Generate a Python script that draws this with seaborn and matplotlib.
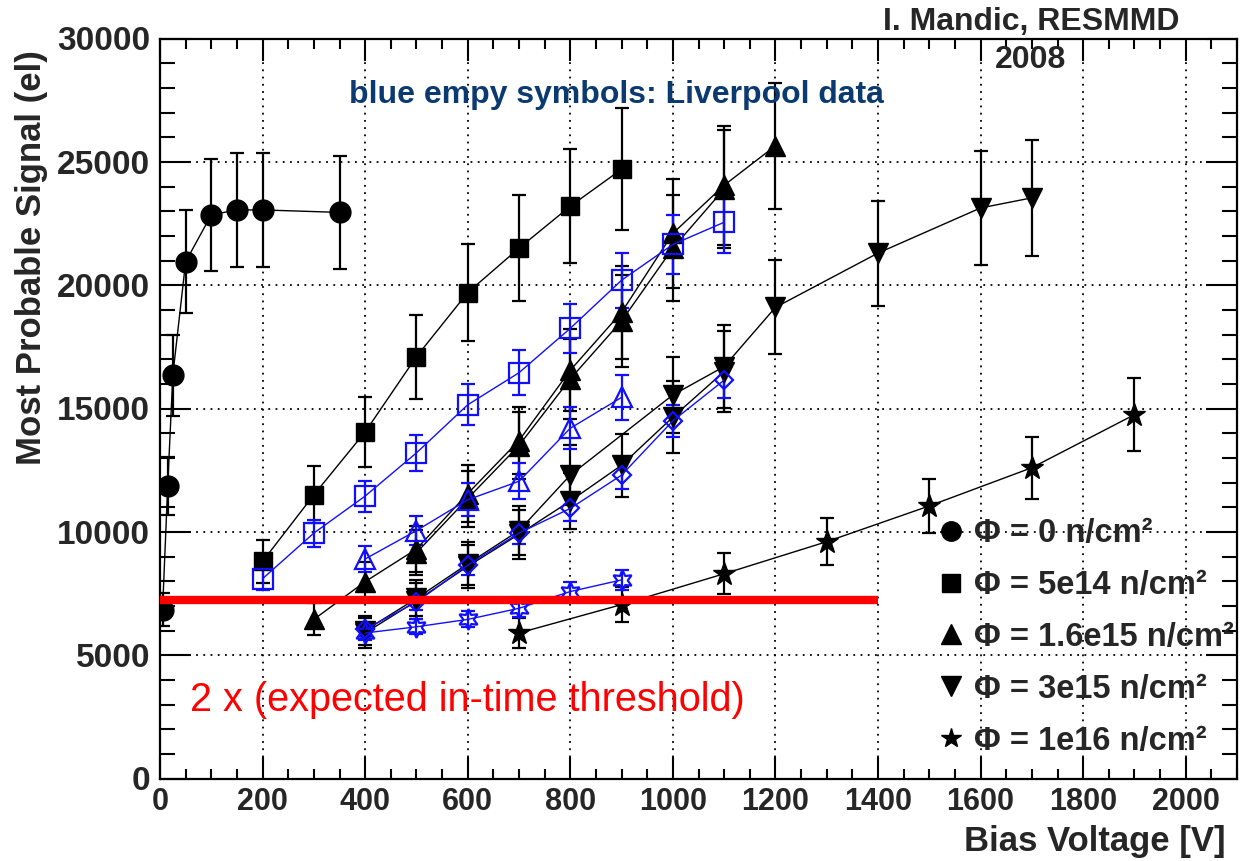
import numpy as np
import matplotlib
matplotlib.use("Agg")
import matplotlib.pyplot as plt
import seaborn as sns
from matplotlib.lines import Line2D
from matplotlib.ticker import MultipleLocator

# --- data (bias voltage [V], most probable signal [el]) ---
v_f0 = [5, 15, 25, 50, 100, 150, 200, 350]
s_f0 = [6850, 11850, 16350, 20950, 22850, 23050, 23050, 22950]

v_f5e14 = [200, 300, 400, 500, 600, 700, 800, 900]
s_f5e14 = [8800, 11500, 14050, 17100, 19700, 21500, 23200, 24700]

v_f16a = [300, 400, 500, 600, 700, 800, 900, 1000, 1100, 1200]
s_f16a = [6450, 7980, 9300, 11550, 13700, 16550, 18900, 22100, 24050, 25650]
v_f16b = [500, 600, 700, 800, 900, 1000, 1100]
s_f16b = [9150, 11350, 13500, 16200, 18550, 21500, 23900]

v_f3a = [400, 500, 600, 700, 800, 1000, 1100, 1200, 1400, 1600, 1700]
s_f3a = [6000, 7300, 8700, 10050, 12300, 15550, 16700, 19100, 21300, 23130, 23540]
v_f3b = [400, 500, 600, 700, 800, 900, 1000, 1100]
s_f3b = [5900, 7200, 8600, 9900, 11250, 12700, 14650, 16500]

v_f1e16 = [700, 900, 1100, 1300, 1500, 1700, 1900]
s_f1e16 = [5900, 7050, 8300, 9600, 11050, 12600, 14750]

# Liverpool (blue, open symbols)
v_lv5e14 = [200, 300, 400, 500, 600, 700, 800, 900, 1000, 1100]
s_lv5e14 = [8100, 9950, 11450, 13200, 15150, 16450, 18250, 20200, 21650, 22550]
v_lv16 = [400, 500, 600, 700, 800, 900]
s_lv16 = [8900, 10050, 11300, 12050, 14200, 15450]
v_lv3 = [400, 500, 600, 700, 800, 900, 1000, 1100]
s_lv3 = [6050, 7150, 8650, 9950, 10950, 12300, 14500, 16150]
v_lv1e16 = [400, 500, 600, 700, 800, 900]
s_lv1e16 = [5900, 6150, 6450, 6900, 7580, 8050]

threshold = 7250
threshold_v = [0, 1400]

legend_labels = ["Φ = 0 n/cm²", "Φ = 5e14 n/cm²", "Φ = 1.6e15 n/cm²",
                 "Φ = 3e15 n/cm²", "Φ = 1e16 n/cm²"]

BLUE = "#1010ff"
star6 = (6, 1, 0)

series = [
    # v, s, relative error, marker, size, color, filled
    (v_f0, s_f0, 0.10, "o", 15, "black", True),
    (v_f5e14, s_f5e14, 0.10, "s", 13, "black", True),
    (v_f16a, s_f16a, 0.10, "^", 15, "black", True),
    (v_f16b, s_f16b, 0.10, "^", 15, "black", True),
    (v_f3a, s_f3a, 0.10, "v", 15, "black", True),
    (v_f3b, s_f3b, 0.10, "v", 15, "black", True),
    (v_f1e16, s_f1e16, 0.10, "*", 17, "black", True),
    (v_lv5e14, s_lv5e14, 0.055, "s", 14, BLUE, False),
    (v_lv16, s_lv16, 0.06, "^", 15, BLUE, False),
    (v_lv3, s_lv3, 0.045, "D", 9, BLUE, False),
    (v_lv1e16, s_lv1e16, 0.05, star6, 15, BLUE, False),
]

sns.set_theme(style="ticks")
plt.rcParams["font.family"] = ["Liberation Sans", "DejaVu Sans"]
plt.rcParams["font.weight"] = "bold"

fig = plt.figure(figsize=(12.42, 8.61), dpi=100)
ax = fig.add_axes([160 / 1242, 1 - 778.5 / 861, (1237 - 160) / 1242, 740 / 861])

for v, s, rel, mk, ms, col, filled in series:
    s = np.asarray(s, dtype=float)
    ax.errorbar(v, s, yerr=rel * s, fmt="none", ecolor=col, elinewidth=1.6,
                capsize=5, capthick=1.6, zorder=3)
    sns.lineplot(x=v, y=s, ax=ax, color=col, linewidth=1.0, marker=mk,
                 markersize=ms, markerfacecolor=col if filled else "none",
                 markeredgecolor=col, markeredgewidth=1.0 if filled else 1.6,
                 estimator=None, sort=False, legend=False, zorder=4)

ax.plot(threshold_v, [threshold, threshold], color="#ff0000", linewidth=6,
        solid_capstyle="butt", zorder=6)

ax.set_xlim(0, 2100)
ax.set_ylim(0, 30000)
ax.xaxis.set_major_locator(MultipleLocator(200))
ax.xaxis.set_minor_locator(MultipleLocator(50))
ax.yaxis.set_major_locator(MultipleLocator(5000))
ax.yaxis.set_minor_locator(MultipleLocator(1000))
ax.grid(True, which="major", color="black", linestyle=(0, (1, 3)), linewidth=1.3)
ax.set_axisbelow(True)

ax.tick_params(which="both", direction="in", top=True, right=True,
               color="black", width=1.5)
ax.tick_params(axis="x", which="major", length=16, labelsize=22, pad=6)
ax.tick_params(axis="x", which="minor", length=7)
ax.tick_params(axis="y", which="major", length=22, labelsize=24, pad=7)
ax.tick_params(axis="y", which="minor", length=11)
for sp in ax.spines.values():
    sp.set_color("black")
    sp.set_linewidth(1.6)
ax.set_xlabel("")
ax.set_ylabel("")

fig.text(32 / 1242, 1 - 50 / 861, "Most Probable Signal (el)", rotation=90,
         ha="center", va="top", fontsize=25, fontweight="bold")
fig.text(1226 / 1242, 1 - 842 / 861, "Bias Voltage [V]", ha="right",
         va="center", fontsize=25, fontweight="bold")

fig.text(1031 / 1242, 1 - 22 / 861, "I. Mandic, RESMMD", ha="center",
         va="center", fontsize=23, fontweight="bold")
fig.text(1031 / 1242, 1 - 60 / 861, "2008", ha="center",
         va="center", fontsize=23, fontweight="bold")
fig.text(616 / 1242, 1 - 95 / 861, "blue empy symbols: Liverpool data",
         ha="center", va="center", fontsize=23, fontweight="bold", color="#0a3a70")
fig.text(190 / 1242, 1 - 700 / 861, "2 x (expected in-time threshold)",
         ha="left", va="center", fontsize=28.5, fontweight="normal",
         color="#ff0000", zorder=7)

handles = [
    Line2D([], [], marker="o", color="black", linestyle="none", markersize=14),
    Line2D([], [], marker="s", color="black", linestyle="none", markersize=13),
    Line2D([], [], marker="^", color="black", linestyle="none", markersize=14),
    Line2D([], [], marker="v", color="black", linestyle="none", markersize=14),
    Line2D([], [], marker="*", color="black", linestyle="none", markersize=15),
]
leg = fig.legend(handles, legend_labels, loc="upper left",
                 bbox_to_anchor=(925 / 1242, 1 - 505 / 861), frameon=False,
                 prop={"size": 23.5, "weight": "bold"}, handlelength=0.8,
                 handletextpad=0.3, labelspacing=0.64, borderaxespad=0)

fig.savefig("out.png", dpi=100)
